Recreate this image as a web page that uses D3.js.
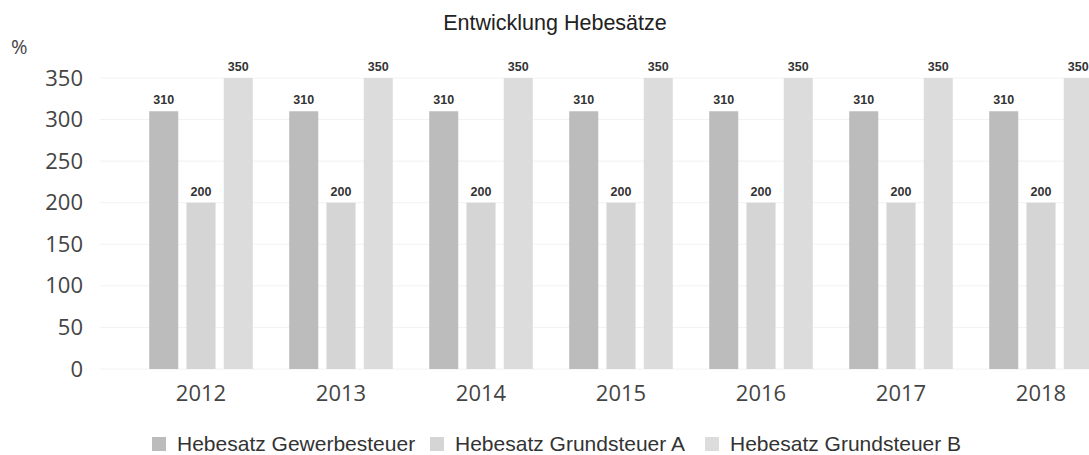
<!DOCTYPE html>
<html>
<head>
<meta charset="utf-8">
<script src="https://cdnjs.cloudflare.com/ajax/libs/d3/7.8.5/d3.min.js"></script>
<style>
  body { margin: 0; background: #fff; }
  svg { display: block; }
</style>
</head>
<body>
<div class="chart"></div>
<script>
const years = ['2012', '2013', '2014', '2015', '2016', '2017', '2018'];
const seriesNames = ['Hebesatz Gewerbesteuer', 'Hebesatz Grundsteuer A', 'Hebesatz Grundsteuer B'];
const gewerbe = [310, 310, 310, 310, 310, 310, 310];
const grundA = [200, 200, 200, 200, 200, 200, 200];
const grundB = [350, 350, 350, 350, 350, 350, 350];
const yTicks = [0, 50, 100, 150, 200, 250, 300, 350];
const colors = ['#bcbcbc', '#d5d5d5', '#dcdcdc'];

const width = 1089, height = 455;
const svg = d3.select('.chart').append('svg')
    .attr('width', width)
    .attr('height', height);

const x0 = d3.scaleBand()
    .domain(years)
    .range([131, 1111])
    .paddingInner(0.26)
    .paddingOuter(0.13);

const x1 = d3.scaleBand()
    .domain(seriesNames)
    .range([0, x0.bandwidth()])
    .paddingInner(0.22);

const y = d3.scaleLinear()
    .domain([0, 350])
    .range([369, 78]);

// gridlines
svg.append('g')
    .selectAll('line')
    .data(yTicks)
    .enter()
    .append('line')
    .attr('x1', 100)
    .attr('x2', width)
    .attr('y1', d => y(d))
    .attr('y2', d => y(d))
    .attr('stroke', '#f2f2f2')
    .attr('stroke-width', 1);

// y axis labels
const yAxis = d3.axisLeft(y).tickValues(yTicks).tickSize(0).tickPadding(0);
svg.append('g')
    .attr('transform', 'translate(83,0)')
    .call(yAxis)
    .call(g => g.select('.domain').remove())
    .selectAll('text')
    .attr('font-family', '"Open Sans", sans-serif')
    .attr('font-size', 22)
    .attr('fill', '#444');

// x axis labels
const xAxis = d3.axisBottom(x0).tickSize(0).tickPadding(0);
svg.append('g')
    .attr('transform', 'translate(0,385)')
    .call(xAxis)
    .call(g => g.select('.domain').remove())
    .selectAll('text')
    .attr('font-family', '"Open Sans", sans-serif')
    .attr('font-size', 22)
    .attr('fill', '#444');

const rows = years.map((yr, i) => ({
    year: yr,
    values: [gewerbe[i], grundA[i], grundB[i]]
}));

const groups = svg.selectAll('.group')
    .data(rows)
    .enter()
    .append('g')
    .attr('class', 'group')
    .attr('transform', d => 'translate(' + x0(d.year) + ',0)');

groups.selectAll('rect')
    .data(d => d.values.map((v, j) => ({ name: seriesNames[j], value: v, j: j })))
    .enter()
    .append('rect')
    .attr('x', d => x1(d.name))
    .attr('y', d => y(d.value))
    .attr('width', x1.bandwidth())
    .attr('height', d => y(0) - y(d.value))
    .attr('fill', d => colors[d.j]);

groups.selectAll('.val')
    .data(d => d.values.map((v, j) => ({ name: seriesNames[j], value: v })))
    .enter()
    .append('text')
    .attr('class', 'val')
    .attr('x', d => x1(d.name) + x1.bandwidth() / 2)
    .attr('y', d => y(d.value) - 7)
    .attr('text-anchor', 'middle')
    .attr('font-family', '"Liberation Sans", Arial, sans-serif')
    .attr('font-weight', 'bold')
    .attr('font-size', 12.5)
    .attr('fill', '#333')
    .text(d => d.value);

// title
svg.append('text')
    .attr('x', 555)
    .attr('y', 30)
    .attr('text-anchor', 'middle')
    .attr('font-family', '"Liberation Sans", Arial, sans-serif')
    .attr('font-size', 21.5)
    .attr('fill', '#222')
    .text('Entwicklung Hebesätze');

svg.append('text')
    .attr('x', 11)
    .attr('y', 54)
    .attr('font-family', '"Open Sans", sans-serif')
    .attr('font-size', 20)
    .attr('fill', '#444')
    .text('%');

// legend
const legendX = [152, 430, 705];
const legend = svg.selectAll('.legend')
    .data(seriesNames)
    .enter()
    .append('g')
    .attr('class', 'legend')
    .attr('transform', (d, i) => 'translate(' + legendX[i] + ',437)');

legend.append('rect')
    .attr('width', 14)
    .attr('height', 14)
    .attr('fill', (d, i) => colors[i]);

legend.append('text')
    .attr('x', 25)
    .attr('y', 14)
    .attr('font-family', '"Liberation Sans", Arial, sans-serif')
    .attr('font-size', 21)
    .attr('fill', '#333')
    .text(d => d);
</script>
</body>
</html>
